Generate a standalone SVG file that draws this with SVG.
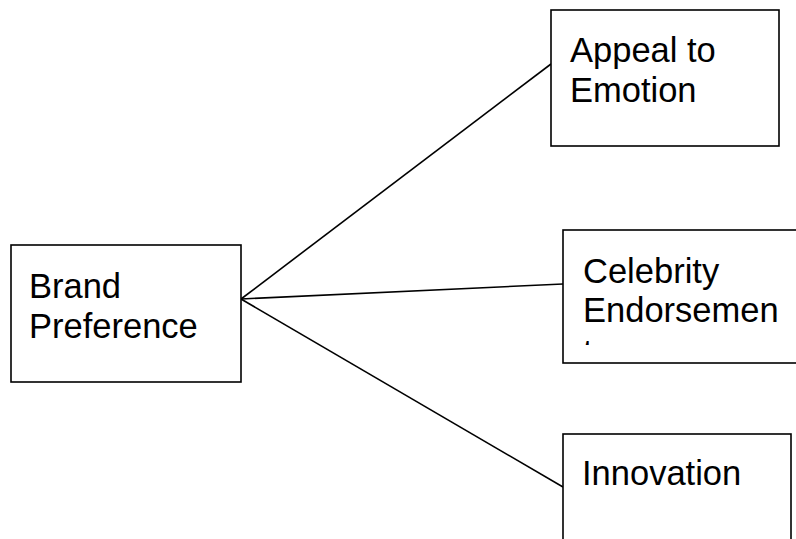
<svg xmlns="http://www.w3.org/2000/svg" width="796" height="539" viewBox="0 0 796 539">
  <style>
    .box { fill: #ffffff; stroke: #000000; stroke-width: 1.6; }
    .lbl { font-family: "Liberation Sans", Arial, sans-serif; font-size: 34.5px; fill: #000000; }
    .conn { stroke: #000000; stroke-width: 1.6; fill: none; }
  </style>
  <defs>
    <clipPath id="clipCeleb">
      <rect x="563" y="230" width="240" height="115"/>
    </clipPath>
  </defs>
  <rect x="0" y="0" width="796" height="539" fill="#ffffff"/>
  <g id="connectors">
    <line class="conn" x1="241" y1="299" x2="551" y2="64"/>
    <line class="conn" x1="241" y1="299" x2="563" y2="284"/>
    <line class="conn" x1="241" y1="299" x2="563" y2="487"/>
  </g>
  <g id="brand">
    <rect class="box" x="11" y="245" width="230" height="137"/>
    <text class="lbl" x="29" y="298">Brand</text>
    <text class="lbl" x="29" y="338">Preference</text>
  </g>
  <g id="appeal">
    <rect class="box" x="551" y="10" width="228" height="136"/>
    <text class="lbl" x="570" y="62">Appeal to</text>
    <text class="lbl" x="570" y="102">Emotion</text>
  </g>
  <g id="celebrity">
    <rect class="box" x="563" y="230" width="240" height="133"/>
    <text class="lbl" x="583" y="283">Celebrity</text>
    <text class="lbl" x="583" y="322">Endorsemen</text>
    <text class="lbl" x="583" y="364" clip-path="url(#clipCeleb)">t</text>
  </g>
  <g id="innovation">
    <rect class="box" x="563" y="434" width="228" height="120"/>
    <text class="lbl" x="582" y="485">Innovation</text>
  </g>
</svg>
